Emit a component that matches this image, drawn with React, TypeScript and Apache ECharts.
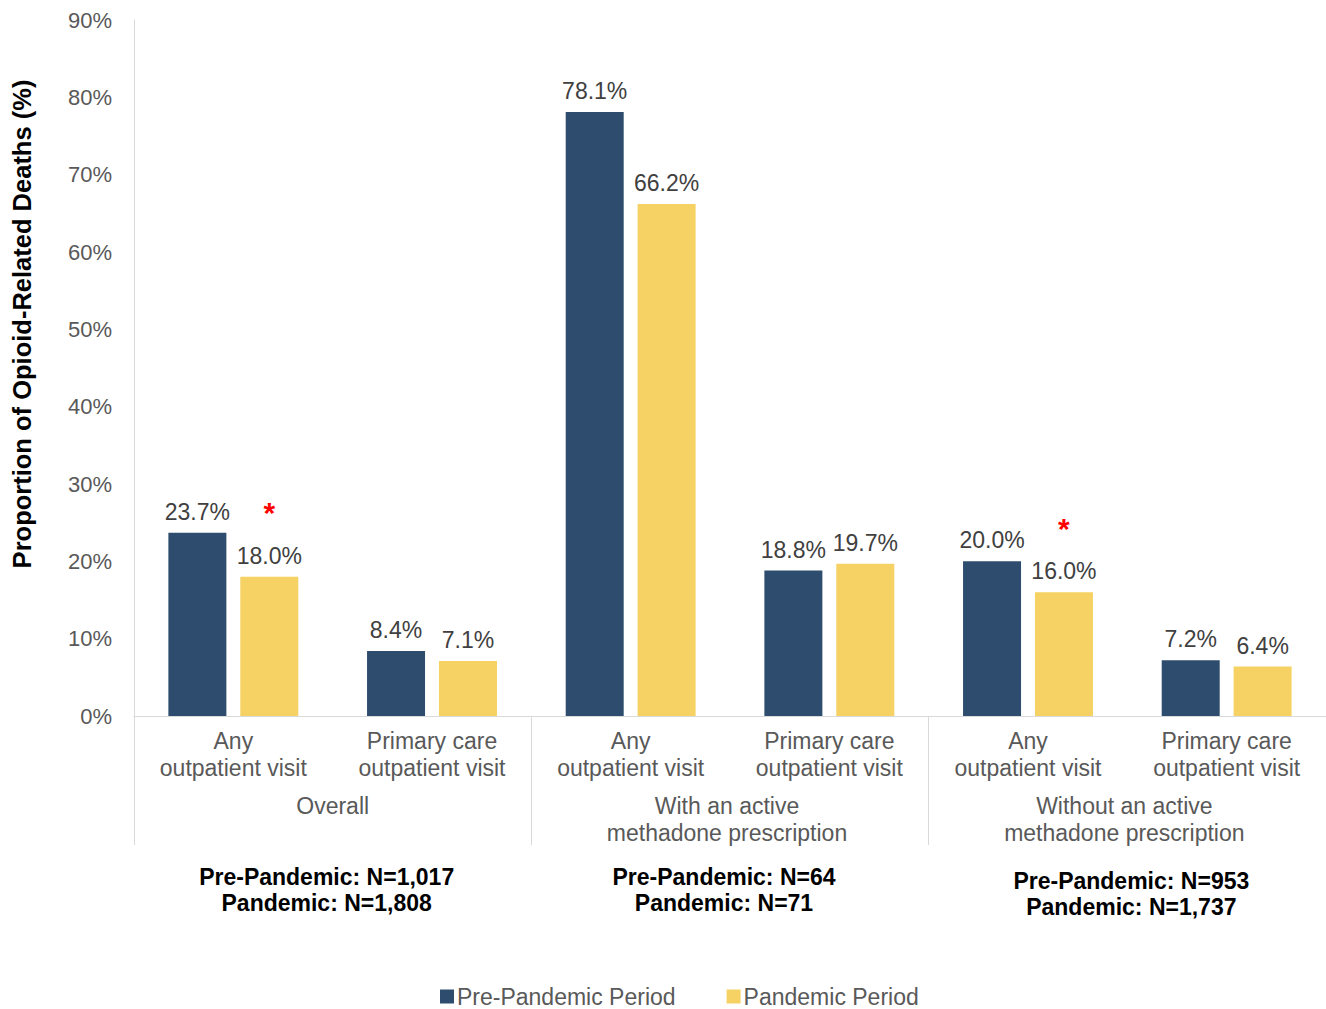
import React, { useEffect, useRef } from 'react';
import * as echarts from 'echarts';

const categories = [
  'Any\noutpatient visit',
  'Primary care\noutpatient visit',
  'Any\noutpatient visit',
  'Primary care\noutpatient visit',
  'Any\noutpatient visit',
  'Primary care\noutpatient visit',
];
const groups = ['Overall', 'With an active\nmethadone prescription', 'Without an active\nmethadone prescription'];
const groupShiftX = [0, -3, -3];
const groupSizes = [
  'Pre-Pandemic: N=1,017\nPandemic: N=1,808',
  'Pre-Pandemic: N=64\nPandemic: N=71',
  'Pre-Pandemic: N=953\nPandemic: N=1,737',
];
const groupSizeShiftY = [0, 0, 4];
const groupSizeShiftX = [-6, -6, 4];
const prePandemic = [23.7, 8.4, 78.1, 18.8, 20.0, 7.2];
const pandemic = [18.0, 7.1, 66.2, 19.7, 16.0, 6.4];
const significant = [true, false, false, false, true, false];
const seriesNames = ['Pre-Pandemic Period', 'Pandemic Period'];
const yTitle = 'Proportion of Opioid-Related Deaths (%)';

const FONT = '"Liberation Sans", Arial, sans-serif';
const NAVY = '#2E4D6E';
const GOLD = '#F5D263';
const GRID = '#D9D9D9';

const shiftPad = (dx: number, dy: number) => [dy, dx < 0 ? -2 * dx : 0, 0, dx > 0 ? 2 * dx : 0];

export default function App() {
  const ref = useRef<HTMLDivElement>(null);
  useEffect(() => {
    if (!ref.current) return;
    const chart = echarts.init(ref.current, undefined, { renderer: 'svg' });
    const valueRich = {
      v: { fontSize: 23, lineHeight: 26, color: '#404040', fontFamily: FONT },
      s: { fontSize: 30, lineHeight: 60, color: '#FF0000', fontWeight: 'bold', fontFamily: FONT },
    };
    chart.setOption({
      animation: false,
      textStyle: { fontFamily: FONT },
      grid: { left: 134, right: 0, top: 20, bottom: 293, containLabel: false },
      legend: {
        data: seriesNames,
        left: 435,
        top: 980,
        itemWidth: 14,
        itemHeight: 14,
        itemGap: 51,
        icon: 'rect',
        textStyle: { fontSize: 23, color: '#595959', fontFamily: FONT, padding: [0, 0, 0, -2] },
      },
      graphic: [
        {
          type: 'text',
          x: 22,
          y: 324,
          rotation: Math.PI / 2,
          style: {
            text: yTitle,
            font: `bold 25.5px ${FONT}`,
            fill: '#000000',
            textAlign: 'center',
            textVerticalAlign: 'middle',
          },
        },
      ],
      xAxis: [
        {
          type: 'category',
          data: categories,
          position: 'bottom',
          axisLine: { show: true, lineStyle: { color: GRID, width: 1 } },
          axisTick: { show: false },
          axisLabel: { interval: 0, fontSize: 23, lineHeight: 27, color: '#595959', margin: 11, fontFamily: FONT },
        },
        {
          type: 'category',
          data: groups.map((g, i) => ({ value: g, textStyle: { padding: shiftPad(groupShiftX[i], 0) } })),
          position: 'bottom',
          axisLine: { show: false },
          axisTick: { show: true, length: 129, lineStyle: { color: GRID, width: 1 } },
          axisLabel: { interval: 0, fontSize: 23, lineHeight: 27, color: '#595959', margin: 76, fontFamily: FONT },
        },
        {
          type: 'category',
          data: groupSizes.map((g, i) => ({
            value: g,
            textStyle: { padding: shiftPad(groupSizeShiftX[i], groupSizeShiftY[i]) },
          })),
          position: 'bottom',
          axisLine: { show: false },
          axisTick: { show: false },
          axisLabel: {
            interval: 0,
            fontSize: 23,
            lineHeight: 26,
            fontWeight: 'bold',
            color: '#000000',
            margin: 148,
            fontFamily: FONT,
          },
        },
      ],
      yAxis: {
        type: 'value',
        min: 0,
        max: 90,
        interval: 10,
        axisLine: { show: true, lineStyle: { color: GRID, width: 1 } },
        axisTick: { show: false },
        splitLine: { show: false },
        axisLabel: { formatter: '{value}%', fontSize: 22, color: '#595959', margin: 22, fontFamily: FONT },
      },
      series: [
        {
          name: seriesNames[0],
          type: 'bar',
          xAxisIndex: 0,
          data: prePandemic,
          barWidth: 58,
          barGap: '24%',
          itemStyle: { color: NAVY },
          label: {
            show: true,
            position: 'top',
            distance: 8,
            formatter: (p: any) => `{v|${p.value.toFixed(1)}%}`,
            rich: valueRich,
          },
        },
        {
          name: seriesNames[1],
          type: 'bar',
          xAxisIndex: 0,
          data: pandemic,
          barWidth: 58,
          barGap: '24%',
          itemStyle: { color: GOLD },
          label: {
            show: true,
            position: 'top',
            distance: 8,
            formatter: (p: any) =>
              significant[p.dataIndex] ? `{s|*}\n{v|${p.value.toFixed(1)}%}` : `{v|${p.value.toFixed(1)}%}`,
            rich: valueRich,
          },
        },
      ],
    });
    return () => chart.dispose();
  }, []);
  return <div ref={ref} style={{ position: 'fixed', left: 0, top: 0, width: 1326, height: 1009, background: '#fff' }} />;
}
